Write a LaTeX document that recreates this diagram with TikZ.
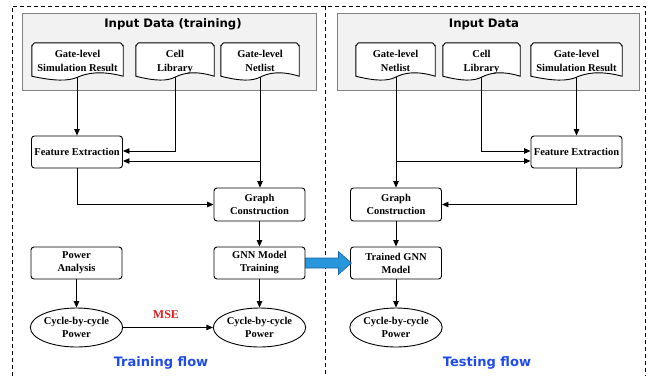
\documentclass[tikz,border=0pt]{standalone}
\usepackage{fontspec}
\setmainfont{Liberation Serif}
\newfontfamily\titlefont{DejaVu Sans}
\usetikzlibrary{arrows.meta,calc,shapes.geometric}
\definecolor{flowblue}{RGB}{30,75,235}
\definecolor{msered}{RGB}{225,30,30}
\definecolor{arrblue}{RGB}{40,150,218}
\definecolor{arrblueedge}{RGB}{25,100,170}
\tikzset{
  box/.style={draw, rounded corners=3pt, line width=0.9pt, minimum width=91pt, minimum height=32pt, align=center, inner sep=1pt, font=\fontsize{10.5}{13}\selectfont\bfseries},
  ell/.style={draw, ellipse, line width=0.9pt, minimum width=91pt, minimum height=39pt, align=center, inner sep=0pt, font=\fontsize{10.5}{13}\selectfont\bfseries},
  doctext/.style={minimum width=#1, minimum height=34pt, align=center, inner sep=0pt, font=\fontsize{10.5}{13.5}\selectfont\bfseries},
  docshape/.style={draw, fill=white, line width=0.9pt},
  arr/.style={-{Triangle[length=6.5pt,width=5.5pt]}, line width=0.9pt},
  grey/.style={draw=black!50, fill=black!5, line width=0.9pt},
  frame/.style={dash pattern=on 4pt off 3pt, line width=0.9pt},
  title/.style={font=\titlefont\fontsize{11.7}{14}\selectfont\bfseries},
  flowlabel/.style={font=\titlefont\fontsize{13}{15}\selectfont\bfseries, text=flowblue},
}
\newcommand{\docdraw}[1]{%
  \draw[docshape] ($(#1.south west)+(0,-1)$) -- ($(#1.north west)+(0,3)$) to[out=-90,in=180] ($(#1.north west)+(3,0)$) -- ($(#1.north east)+(-3,0)$) to[out=0,in=-90] ($(#1.north east)+(0,3)$) -- ($(#1.south east)+(0,-1)$)
  .. controls ($(#1.south east)!0.25!(#1.south west)+(0,-7)$) and ($(#1.south east)!0.4!(#1.south west)+(0,-4)$) .. ($(#1.south)+(0,0)$)
  .. controls ($(#1.south west)!0.4!(#1.south east)+(0,4)$) and ($(#1.south west)!0.25!(#1.south east)+(0,4)$) .. ($(#1.south west)+(0,-1)$) -- cycle;}
\begin{document}
\begin{tikzpicture}[x=1pt,y=-1pt]
\useasboundingbox (0,0) rectangle (648,376);
% frames
\draw[frame] (12,376) -- (12,6) -- (645,6) -- (645,376);
\draw[frame] (325,6) -- (325,376);
% grey boxes
\node[grey, minimum width=294pt, minimum height=77pt, inner sep=0pt] (gl) at (169,51.5) {};
\node[grey, minimum width=302pt, minimum height=77pt, inner sep=0pt] (gr) at (488,51.5) {};
\node[title] (tl) at (173,24) {Input Data (training)};
\node[title] (tr) at (484,24) {Input Data};
% document anchors
\node[doctext=91pt] (d1) at (77.5,60) {};
\node[doctext=78pt] (d2) at (175,60) {};
\node[doctext=78pt] (d3) at (260,60) {};
\node[doctext=79pt] (e1) at (395.5,60) {};
\node[doctext=77pt] (e2) at (481.5,60) {};
\node[doctext=91pt] (e3) at (576.5,60) {};
% left flow
\node[box] (fe) at (77,152) {Feature Extraction};
\node[box, minimum height=33pt] (gc) at (259.5,204.5) {Graph\\Construction};
\node[box] (gnn) at (259.5,263) {GNN Model\\Training};
\node[box] (pa) at (76.5,263) {Power\\Analysis};
\node[ell] (c1) at (76.5,327.5) {Cycle-by-cycle\\Power};
\node[ell] (c2) at (259.5,327.5) {Cycle-by-cycle\\Power};
% right flow
\node[box] (fe2) at (576.5,152) {Feature Extraction};
\node[box, minimum height=33pt] (gc2) at (396,204.5) {Graph\\Construction};
\node[box] (tg) at (396,263) {Trained GNN\\Model};
\node[ell] (c3) at (396,327.5) {Cycle-by-cycle\\Power};
% labels
\node[font=\fontsize{12}{14}\selectfont\bfseries, text=msered] (mse) at (166,315) {MSE};
\node[flowlabel] (tfl) at (161,363) {Training flow};
\node[flowlabel] (tsl) at (487,363) {Testing flow};
% left connectors
\coordinate (feA) at ([yshift=1pt]fe.east);
\coordinate (feB) at ([yshift=-9pt]fe.east);
\draw[arr] (d1.center -| fe.north) -- (fe.north);
\draw[arr] (d2.center) |- (feA);
\draw[arr] (d3.center) -- (d3.center |- gc.north);
\draw[arr] (d3.center |- feB) -- (feB);
\draw[arr] (fe.south) |- (gc.west);
\draw[arr] (gc) -- (gnn);
\draw[arr] (gnn) -- (c2);
\draw[arr] (pa) -- (c1);
\draw[arr] (c1) -- (c2);
% right connectors
\coordinate (fe2A) at ([yshift=1pt]fe2.west);
\coordinate (fe2B) at ([yshift=-9pt]fe2.west);
\draw[arr] (e1.center -| gc2.north) -- (gc2.north);
\draw[arr] (gc2.north |- fe2B) -- (fe2B);
\draw[arr] (e2.center) |- (fe2A);
\draw[arr] (e3.center -| fe2.north) -- (fe2.north);
\draw[arr] (fe2.south) |- (gc2.east);
\draw[arr] (gc2) -- (tg);
\draw[arr] (tg) -- (c3);
% documents (drawn over connector starts)
\docdraw{d1}\docdraw{d2}\docdraw{d3}\docdraw{e1}\docdraw{e2}\docdraw{e3}
\node[doctext=91pt] (t1) at ([yshift=-1pt]d1) {Gate-level\\Simulation Result};
\node[doctext=78pt] (t2) at ([yshift=-2pt]d2) {Cell\\Library};
\node[doctext=78pt] (t3) at ([yshift=-1pt]d3) {Gate-level\\Netlist};
\node[doctext=79pt] (t4) at ([yshift=-1pt]e1) {Gate-level\\Netlist};
\node[doctext=77pt] (t5) at ([yshift=-2pt]e2) {Cell\\Library};
\node[doctext=91pt] (t6) at ([yshift=-1pt]e3) {Gate-level\\Simulation Result};
% blue transfer arrow
\draw[fill=arrblue, draw=arrblueedge, line width=0.6pt] (gnn.east) ++(0,-5) -- ++(33,0) -- ++(0,-6.5) -- ++(13,11.5) -- ++(-13,11.5) -- ++(0,-6.5) -- ++(-33,0) -- cycle;
\end{tikzpicture}
\end{document}
